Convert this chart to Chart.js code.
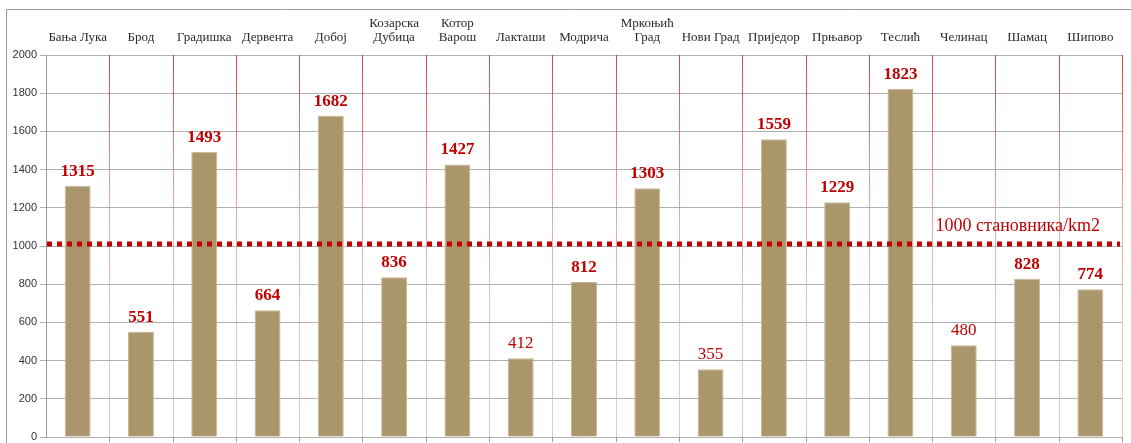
<!DOCTYPE html>
<html>
<head>
<meta charset="utf-8">
<title>Густина насељености</title>
<script src="https://cdn.jsdelivr.net/npm/chart.js@4.4.1/dist/chart.umd.min.js"></script>
<style>
    html, body { margin: 0; padding: 0; background: #fff; }
    canvas { display: block; }
</style>
</head>
<body>
<canvas id="densityChart" width="1131" height="443"></canvas>
<script>
const municipalities = [
    'Бања Лука', 'Брод', 'Градишка', 'Дервента', 'Добој', ['Козарска', 'Дубица'],
    ['Котор', 'Варош'], 'Лакташи', 'Модрича', ['Мркоњић', 'Град'], 'Нови Град',
    'Приједор', 'Прњавор', 'Теслић', 'Челинац', 'Шамац', 'Шипово'
];
const density = [1315, 551, 1493, 664, 1682, 836, 1427, 412, 812, 1303, 355, 1559, 1229, 1823, 480, 828, 774];
const yMax = 2000;
const yStep = 200;
const threshold = 1000;
const thresholdLabel = '1000 становника/km2';

const serif = '"Liberation Serif", "DejaVu Serif", serif';
const darkRed = '#c00000';

// grey frame around the whole figure
const framePlugin = {
    id: 'frame',
    beforeDraw(chart) {
        const ctx = chart.ctx;
        ctx.save();
        ctx.strokeStyle = '#9a9a9a';
        ctx.lineWidth = 1;
        ctx.beginPath();
        ctx.moveTo(6.5, chart.height);
        ctx.lineTo(6.5, 9.5);
        ctx.lineTo(chart.width, 9.5);
        ctx.stroke();
        ctx.restore();
    }
};

// category separators fading from red at the top to tan at the bottom
const separatorPlugin = {
    id: 'separators',
    beforeDatasetsDraw(chart) {
        const ctx = chart.ctx;
        const area = chart.chartArea;
        const x = chart.scales.x;
        const step = x.width / municipalities.length;
        const grad = ctx.createLinearGradient(0, area.top, 0, area.bottom);
        grad.addColorStop(0, 'rgba(200, 40, 40, 0.85)');
        grad.addColorStop(0.4, 'rgba(220, 130, 120, 0.7)');
        grad.addColorStop(0.75, 'rgba(215, 190, 160, 0.75)');
        grad.addColorStop(1, 'rgba(210, 195, 165, 0.8)');
        ctx.save();
        ctx.lineWidth = 1;
        for (let i = 0; i < municipalities.length; i++) {
            const px = Math.round(x.getPixelForValue(i) + step / 2) + 0.5;
            ctx.strokeStyle = grad;
            ctx.beginPath();
            ctx.moveTo(px, area.top);
            ctx.lineTo(px, area.bottom);
            ctx.stroke();
            ctx.strokeStyle = '#9a9a9a';
            ctx.beginPath();
            ctx.moveTo(px, area.bottom);
            ctx.lineTo(px, area.bottom + 5);
            ctx.stroke();
        }
        ctx.restore();
    }
};

// dotted threshold line, its caption and the value labels over the bars
const overlayPlugin = {
    id: 'overlay',
    afterDatasetsDraw(chart) {
        const ctx = chart.ctx;
        const area = chart.chartArea;
        const y = chart.scales.y;
        const ty = y.getPixelForValue(threshold) - 2;

        ctx.save();
        ctx.strokeStyle = darkRed;
        ctx.lineWidth = 5;
        ctx.setLineDash([5, 5]);
        ctx.beginPath();
        ctx.moveTo(area.left + 1, ty);
        ctx.lineTo(area.right - 2, ty);
        ctx.stroke();
        ctx.setLineDash([]);

        ctx.fillStyle = darkRed;
        ctx.font = '18px ' + serif;
        ctx.textAlign = 'right';
        ctx.textBaseline = 'middle';
        ctx.fillText(thresholdLabel, area.right - 22, ty - 18);

        ctx.textAlign = 'center';
        ctx.textBaseline = 'bottom';
        chart.getDatasetMeta(0).data.forEach((bar, i) => {
            const v = density[i];
            ctx.font = (v >= 500 ? 'bold 17px ' : '17px ') + serif;
            ctx.fillText(String(v), bar.x, bar.y - 6);
        });
        ctx.restore();
    }
};

new Chart(document.getElementById('densityChart'), {
    type: 'bar',
    data: {
        labels: municipalities,
        datasets: [{
            data: density,
            backgroundColor: '#ab956a',
            borderColor: '#c9b894',
            borderWidth: 1,
            barPercentage: 0.41,
            categoryPercentage: 1
        }]
    },
    options: {
        responsive: false,
        animation: false,
        layout: {
            padding: { top: 0, left: 0, right: 9, bottom: 6 }
        },
        plugins: {
            legend: { display: false },
            tooltip: { enabled: false }
        },
        scales: {
            x: {
                position: 'top',
                grid: { display: false, drawTicks: false },
                border: { display: false },
                ticks: {
                    padding: 10,
                    color: '#2a2a2a',
                    maxRotation: 0,
                    autoSkip: false,
                    font: { family: serif, size: 13, lineHeight: '14px' }
                },
                afterFit(scale) { scale.height = 55; }
            },
            y: {
                min: 0,
                max: yMax,
                ticks: {
                    stepSize: yStep,
                    padding: 3,
                    color: '#333',
                    font: { family: '"Liberation Sans", Arial, sans-serif', size: 11 },
                    callback: value => String(value)
                },
                grid: {
                    color: '#b0b0b0',
                    tickLength: 6
                },
                border: { color: '#9a9a9a' },
                afterFit(scale) {
                    scale.width = 46;
                    scale.paddingTop = 0;
                    scale.paddingBottom = 0;
                }
            }
        }
    },
    plugins: [framePlugin, separatorPlugin, overlayPlugin]
});
</script>
</body>
</html>
